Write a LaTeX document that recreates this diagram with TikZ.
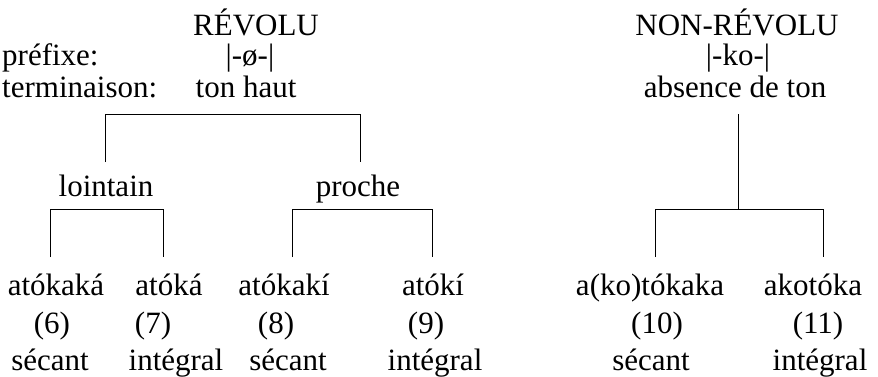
\documentclass[tikz,border=0pt]{standalone}
\usepackage{fontspec}
\setmainfont{Liberation Serif}
\usetikzlibrary{positioning,calc}

\begin{document}
\begin{tikzpicture}[
    x=1pt, y=-1pt,
    word/.style={anchor=base, inner sep=0pt, font=\fontsize{31}{33}\selectfont},
    tag/.style={word, anchor=base west},
    link/.style={draw=black, line width=1pt}
]
    \useasboundingbox (0,0) rectangle (878,376);

    % revolu
    \node[word] (revolu) at (256,35) {RÉVOLU};
    \node[tag] (prefixe) at (2,65) {préfixe:};
    \node[word] (zero) at (250,65) {|-ø-|};
    \node[tag] (terminaison) at (2,97) {terminaison:};
    \node[word] (tonhaut) at (246,97) {ton haut};

    \node[word] (lointain) at (106,196) {lointain};
    \node[word] (proche) at (358,196) {proche};

    \node[word] (f6) at (56,295) {atókaká};
    \node[word] (f7) at (169,295) {atóká};
    \node[word] (f8) at (284,295) {atókakí};
    \node[word] (f9) at (433,295) {atókí};
    \node[word] (n6) at (52,333) {(6)};
    \node[word] (n7) at (153,333) {(7)};
    \node[word] (n8) at (276,333) {(8)};
    \node[word] (n9) at (426,333) {(9)};
    \node[word] (s6) at (50,370) {sécant};
    \node[word] (s7) at (176,370) {intégral};
    \node[word] (s8) at (288,370) {sécant};
    \node[word] (s9) at (435,370) {intégral};

    % non-revolu
    \node[word] (nonrevolu) at (737,35) {NON-RÉVOLU};
    \node[word] (ko) at (738,65) {|-ko-|};
    \node[word] (absence) at (735,97) {absence de ton};

    \node[word] (f10) at (650,295) {a(ko)tókaka};
    \node[word] (f11) at (813,295) {akotóka};
    \node[word] (n10) at (657,333) {(10)};
    \node[word] (n11) at (818,333) {(11)};
    \node[word] (s10) at (651,370) {sécant};
    \node[word] (s11) at (820,370) {intégral};

    % brackets
    \draw[link] ($(lointain.base)+(-1,-34)$) |- ($(proche.base)+(2,-82)$) -- ($(proche.base)+(2,-34)$);
    \draw[link] ($(f6.base)+(-6,-38)$) |- ($(f7.base)+(-6,-86)$) -- ($(f7.base)+(-6,-38)$);
    \draw[link] ($(f8.base)+(8,-38)$) |- ($(f9.base)+(-1,-86)$) -- ($(f9.base)+(-1,-38)$);
    \draw[link] ($(absence.base)+(3,17)$) -- ($(absence.base)+(3,112)$);
    \draw[link] ($(f10.base)+(5,-38)$) |- ($(f11.base)+(10,-86)$) -- ($(f11.base)+(10,-38)$);
\end{tikzpicture}
\end{document}
